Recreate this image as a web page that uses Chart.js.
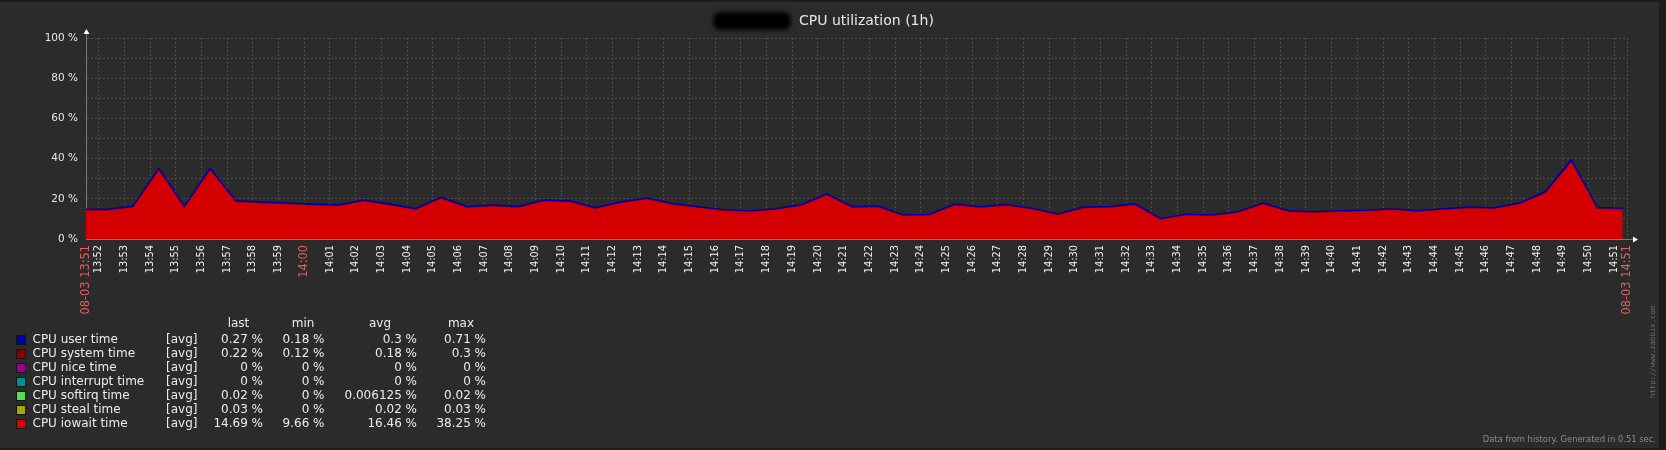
<!DOCTYPE html>
<html>
<head>
<meta charset="utf-8">
<script src="https://cdn.jsdelivr.net/npm/chart.js@4.4.1/dist/chart.umd.min.js"></script>
<style>
  html, body { margin: 0; padding: 0; background: #1c1c1c; overflow: hidden; }
  canvas { display: block; }
</style>
</head>
<body>
<canvas id="cpu" width="1666" height="450"></canvas>
<script>
// samples, one a minute (taken at :20 past each minute)
const sampleTimes = [
  '13:51','13:52','13:53','13:54','13:55','13:56','13:57','13:58','13:59','14:00',
  '14:01','14:02','14:03','14:04','14:05','14:06','14:07','14:08','14:09','14:10',
  '14:11','14:12','14:13','14:14','14:15','14:16','14:17','14:18','14:19','14:20',
  '14:21','14:22','14:23','14:24','14:25','14:26','14:27','14:28','14:29','14:30',
  '14:31','14:32','14:33','14:34','14:35','14:36','14:37','14:38','14:39','14:40',
  '14:41','14:42','14:43','14:44','14:45','14:46','14:47','14:48','14:49','14:50',
  '14:51'
];

const iowait = [
  14.2, 14.2, 15.8, 34.2, 15.5, 34.2, 18.4, 17.8, 17.3, 16.8,
  16.4, 18.8, 16.8, 14.5, 20.1, 15.5, 16.3, 15.6, 18.8, 18.4,
  15.0, 17.9, 19.8, 17.1, 15.5, 14.1, 13.5, 14.5, 16.4, 21.8,
  15.5, 15.8, 11.5, 11.7, 16.8, 15.5, 16.6, 14.8, 12.0, 15.3,
  15.6, 16.9, 9.66, 11.8, 11.5, 13.0, 17.3, 13.5, 13.1, 13.6,
  13.8, 14.5, 13.5, 14.5, 15.3, 15.0, 17.4, 22.9, 38.25, 15.1,
  14.69
];

const system = [
  0.18, 0.17, 0.18, 0.26, 0.17, 0.25, 0.19, 0.18, 0.18, 0.17,
  0.18, 0.19, 0.17, 0.16, 0.2, 0.17, 0.18, 0.16, 0.19, 0.18,
  0.16, 0.18, 0.19, 0.17, 0.16, 0.15, 0.14, 0.16, 0.17, 0.21,
  0.17, 0.18, 0.13, 0.13, 0.18, 0.17, 0.18, 0.16, 0.13, 0.17,
  0.17, 0.18, 0.12, 0.13, 0.13, 0.15, 0.19, 0.15, 0.15, 0.15,
  0.16, 0.16, 0.15, 0.16, 0.17, 0.16, 0.19, 0.23, 0.3, 0.18,
  0.22
];

const user = [
  0.27, 0.28, 0.3, 0.52, 0.29, 0.48, 0.31, 0.28, 0.27, 0.3,
  0.29, 0.33, 0.28, 0.25, 0.31, 0.27, 0.28, 0.26, 0.3, 0.29,
  0.26, 0.3, 0.32, 0.28, 0.27, 0.24, 0.22, 0.25, 0.28, 0.34,
  0.27, 0.28, 0.2, 0.21, 0.29, 0.27, 0.28, 0.26, 0.21, 0.27,
  0.28, 0.29, 0.18, 0.21, 0.2, 0.24, 0.3, 0.24, 0.23, 0.24,
  0.25, 0.26, 0.24, 0.26, 0.27, 0.26, 0.3, 0.38, 0.71, 0.28,
  0.27
];

// legend table
const seriesNames = ['CPU user time', 'CPU system time', 'CPU nice time', 'CPU interrupt time',
  'CPU softirq time', 'CPU steal time', 'CPU iowait time'];
const seriesColors = ['#0000a8', '#880000', '#990099', '#008f8f', '#4ee04e', '#a8a800', '#d80000'];
const lastVals = ['0.27 %', '0.22 %', '0 %', '0 %', '0.02 %', '0.03 %', '14.69 %'];
const minVals  = ['0.18 %', '0.12 %', '0 %', '0 %', '0 %', '0 %', '9.66 %'];
const avgVals  = ['0.3 %', '0.18 %', '0 %', '0 %', '0.006125 %', '0.02 %', '16.46 %'];
const maxVals  = ['0.71 %', '0.3 %', '0 %', '0 %', '0.02 %', '0.03 %', '38.25 %'];

const rangeLabels = ['08-03 13:51', '08-03 14:51'];
const tickLabels = sampleTimes.slice(1);

const RED = '#e35d5d';

function toMin(t) {
  const p = t.split(':');
  return (+p[0] - 13) * 60 + (+p[1]);
}

const xMin = toMin(sampleTimes[0]) + 0.5;
const xMax = toMin(sampleTimes[sampleTimes.length - 1]) + 0.5;

function pts(arr) {
  return arr.map((v, i) => ({ x: toMin(sampleTimes[i]) + 20 / 60, y: v }));
}

const tickValues = [xMin].concat(tickLabels.map(toMin), [xMax]);

function isRed(v) {
  return v === xMin || v === xMax || v === toMin('14:00');
}

const zabbixDecor = {
  id: 'zabbixDecor',
  beforeDraw(chart) {
    const ctx = chart.ctx;
    ctx.save();
    ctx.fillStyle = '#1c1c1c';
    ctx.fillRect(0, 0, 1666, 450);
    ctx.fillStyle = '#2b2b2b';
    ctx.fillRect(0, 2, 1659, 446);
    ctx.restore();
  },
  afterDraw(chart) {
    const ctx = chart.ctx;
    const a = chart.chartArea;
    ctx.save();

    // title with redacted host name
    ctx.save();
    ctx.filter = 'blur(2px)';
    ctx.fillStyle = '#000';
    ctx.beginPath();
    ctx.roundRect(713, 12, 78, 18, 8);
    ctx.fill();
    ctx.restore();
    ctx.fillStyle = '#e8e8e8';
    ctx.font = '14px "DejaVu Sans"';
    ctx.textAlign = 'left';
    ctx.textBaseline = 'middle';
    ctx.fillText('CPU utilization (1h)', 799, 21);

    // axis extensions and arrows
    ctx.strokeStyle = '#7a7a7a';
    ctx.lineWidth = 1;
    ctx.beginPath();
    ctx.moveTo(a.left + 0.5, a.top);
    ctx.lineTo(a.left + 0.5, a.top - 6);
    ctx.moveTo(a.right, a.bottom + 0.5);
    ctx.lineTo(a.right + 7, a.bottom + 0.5);
    ctx.stroke();
    ctx.fillStyle = '#ffffff';
    ctx.beginPath();
    ctx.moveTo(a.left + 0.5, a.top - 9);
    ctx.lineTo(a.left - 2.5, a.top - 4);
    ctx.lineTo(a.left + 3.5, a.top - 4);
    ctx.fill();
    ctx.beginPath();
    ctx.moveTo(a.right + 11, a.bottom + 0.5);
    ctx.lineTo(a.right + 6, a.bottom - 2.5);
    ctx.lineTo(a.right + 6, a.bottom + 3.5);
    ctx.fill();

    // legend table
    ctx.font = '12px "DejaVu Sans"';
    ctx.fillStyle = '#ececec';
    ctx.textAlign = 'center';
    ctx.fillText('last', 238.5, 324);
    ctx.fillText('min', 303, 324);
    ctx.fillText('avg', 380, 324);
    ctx.fillText('max', 461, 324);
    seriesNames.forEach((name, i) => {
      const y = 340 + i * 14;
      ctx.fillStyle = seriesColors[i];
      ctx.fillRect(16, y - 5, 10, 10);
      ctx.strokeStyle = '#141414';
      ctx.strokeRect(16.5, y - 4.5, 9, 9);
      ctx.fillStyle = '#ececec';
      ctx.textAlign = 'left';
      ctx.fillText(name, 32.5, y);
      ctx.fillText('[avg]', 166, y);
      ctx.textAlign = 'right';
      ctx.fillText(lastVals[i], 263, y);
      ctx.fillText(minVals[i], 324.5, y);
      ctx.fillText(avgVals[i], 417, y);
      ctx.fillText(maxVals[i], 486, y);
    });

    // footer notes
    ctx.fillStyle = '#8c8c8c';
    ctx.font = '8.4px "DejaVu Sans"';
    ctx.textAlign = 'right';
    ctx.fillText('Data from history. Generated in 0.51 sec.', 1656, 440);
    ctx.translate(1653, 398);
    ctx.rotate(-Math.PI / 2);
    ctx.fillStyle = '#6e6e6e';
    ctx.font = '7.3px "DejaVu Sans Mono"';
    ctx.textAlign = 'left';
    ctx.fillText('http://www.zabbix.com', 0, 0);
    ctx.restore();
  }
};

new Chart(document.getElementById('cpu'), {
  type: 'line',
  data: {
    datasets: [
      {
        label: 'CPU iowait time',
        data: pts(iowait),
        backgroundColor: '#d40000',
        borderColor: 'transparent',
        borderWidth: 0,
        fill: 'origin'
      },
      {
        label: 'CPU system time',
        data: pts(system),
        backgroundColor: '#880000',
        borderColor: 'transparent',
        borderWidth: 0,
        fill: '-1'
      },
      {
        label: 'CPU user time',
        data: pts(user),
        backgroundColor: '#0000a8',
        borderColor: '#0000a8',
        borderWidth: 2,
        fill: '-1'
      }
    ]
  },
  options: {
    responsive: false,
    animation: false,
    events: [],
    tension: 0,
    pointRadius: 0,
    layout: { padding: { left: 0, top: 38, right: 39, bottom: 131 } },
    plugins: {
      legend: { display: false },
      title: { display: false },
      tooltip: { enabled: false }
    },
    scales: {
      x: {
        type: 'linear',
        min: xMin,
        max: xMax,
        afterBuildTicks: (scale) => {
          scale.ticks = tickValues.map(v => ({ value: v }));
        },
        afterFit: (scale) => { scale.height = 80; },
        grid: {
          color: '#4e4e4e',
          drawTicks: false,
          display: true
        },
        border: { display: true, color: '#7a7a7a', dash: [2, 2] },
        ticks: {
          autoSkip: false,
          minRotation: 90,
          maxRotation: 90,
          padding: 6,
          color: (c) => (c.tick && isRed(c.tick.value)) ? RED : '#f0f0f0',
          font: (c) => (c.tick && isRed(c.tick.value))
            ? { family: 'DejaVu Sans', size: 11.4 }
            : { family: 'DejaVu Sans', size: 9.8 },
          callback: (v) => {
            if (v === xMin) return rangeLabels[0];
            if (v === xMax) return rangeLabels[1];
            const idx = tickLabels.findIndex(t => toMin(t) === v);
            return idx >= 0 ? tickLabels[idx] : '';
          }
        }
      },
      y: {
        stacked: true,
        min: 0,
        max: 100,
        afterFit: (scale) => { scale.width = 86; },
        grid: { color: '#4e4e4e', drawTicks: false },
        border: { display: true, color: '#7a7a7a', dash: [2, 2] },
        ticks: {
          stepSize: 10,
          padding: 8,
          color: '#e6e6e6',
          font: { family: 'DejaVu Sans', size: 10.5 },
          callback: (v) => (v % 20 === 0 ? v + ' %' : '')
        }
      }
    }
  },
  plugins: [zabbixDecor]
});
</script>
</body>
</html>
